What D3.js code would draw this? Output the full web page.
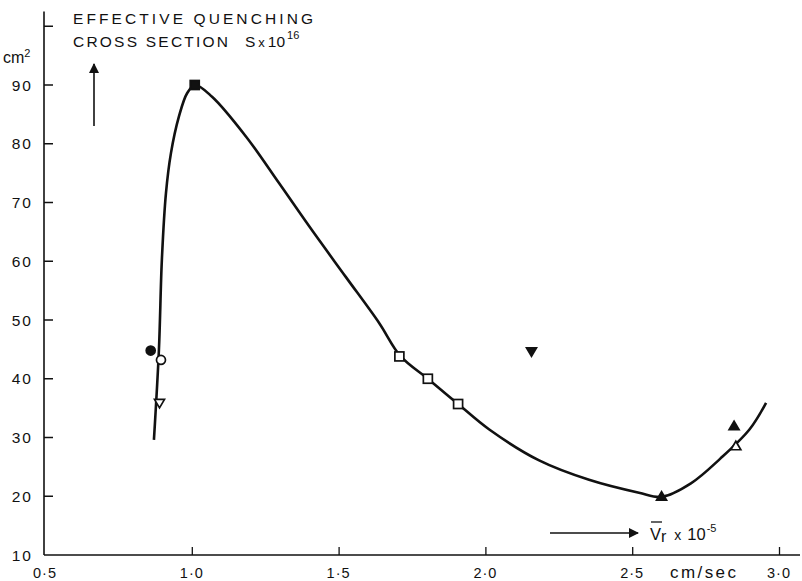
<!DOCTYPE html>
<html><head><meta charset="utf-8">
<script src="https://cdn.jsdelivr.net/npm/d3@7"></script>
<style>body{margin:0;background:#fff}svg{display:block}text{font-family:"Liberation Sans",Arial,sans-serif;fill:#111}</style>
</head><body><svg id="c" width="802" height="581"></svg>
<script>
// tick values and labels
const xTicks = [0.5, 1.0, 1.5, 2.0, 2.5, 3.0];
const xTickLabels = ["0·5", "1·0", "1·5", "2·0", "2·5", "3·0"];
const yTicks = [10, 20, 30, 40, 50, 60, 70, 80, 90, 100];
const yTickLabels = ["10", "20", "30", "40", "50", "60", "70", "80", "90", ""];

// measured points: [x, y, marker]
const pointsX = [0.86, 0.895, 0.89, 1.01, 1.707, 1.804, 1.907, 2.157, 2.60, 2.847, 2.853];
const pointsY = [44.8, 43.2, 35.8, 90.0, 43.8, 40.0, 35.7, 44.6, 20.0, 32.0, 28.6];
const pointsMarker = ["circleFilled", "circleOpen", "triDownOpen", "squareFilled", "squareOpen", "squareOpen", "squareOpen", "triDownFilled", "triUpFilled", "triUpFilled", "triUpOpen"];

// fitted curve
const curveX = [0.871, 0.888, 0.898, 0.912, 0.929, 0.956, 0.984, 1.011, 1.069, 1.185, 1.297, 1.409, 1.525, 1.638, 1.710, 1.804, 1.907, 2.012, 2.183, 2.353, 2.523, 2.601, 2.70, 2.80, 2.90, 2.956];
const curveY = [29.6, 44.9, 60.2, 71.6, 78.4, 84.6, 88.6, 90.0, 88.0, 81.2, 73.3, 65.3, 57.3, 49.5, 43.9, 40.0, 35.7, 31.4, 26.1, 22.8, 20.6, 19.9, 22.2, 26.4, 31.4, 35.9];

const svg = d3.select("#c");
const x = d3.scaleLinear().domain([0.5, 3.0]).range([45, 779]);
const y = d3.scaleLinear().domain([10, 90]).range([555, 85]);
const ink = "#111";
const ax0 = x(0.5) - 1;

// axes
svg.append("line").attr("x1", ax0).attr("x2", 800).attr("y1", y(10)).attr("y2", y(10))
  .attr("stroke", ink).attr("stroke-width", 1.6);
svg.append("line").attr("x1", ax0).attr("x2", ax0).attr("y1", y(102.5)).attr("y2", y(10))
  .attr("stroke", ink).attr("stroke-width", 1.6);

// y ticks (inside)
svg.append("g").selectAll("line").data(yTicks.slice(1)).join("line")
  .attr("x1", ax0).attr("x2", ax0 + 9).attr("y1", d => y(d)).attr("y2", d => y(d))
  .attr("stroke", ink).attr("stroke-width", 1.5);
svg.append("g").selectAll("text").data(yTicks).join("text")
  .attr("x", 33).attr("y", d => y(d) + 5.5).attr("text-anchor", "end")
  .attr("font-size", 15.5).attr("letter-spacing", 2).text((d, i) => yTickLabels[i]);

// x ticks (inside, upward)
const xAxis = d3.axisTop(x).tickValues(xTicks.slice(1)).tickSize(8).tickFormat("");
svg.append("g").attr("transform", `translate(0,${y(10)})`).call(xAxis)
  .call(g => g.select(".domain").remove())
  .call(g => g.selectAll("line").attr("stroke", ink).attr("stroke-width", 1.3));
svg.append("g").selectAll("text").data(xTicks).join("text")
  .attr("x", d => x(d)).attr("y", 578).attr("text-anchor", "middle")
  .attr("font-size", 14.5).attr("letter-spacing", 1).text((d, i) => xTickLabels[i]);
svg.append("text").attr("x", 670).attr("y", 578).attr("font-size", 17).attr("textLength", 66).text("cm/sec");

// title
svg.append("text").attr("x", 73).attr("y", 24).attr("font-size", 15.5)
  .attr("textLength", 240).attr("lengthAdjust", "spacing").text("EFFECTIVE QUENCHING");
svg.append("text").attr("x", 73).attr("y", 47).attr("font-size", 15.5)
  .attr("textLength", 155).attr("lengthAdjust", "spacing").text("CROSS SECTION");
const t2 = svg.append("text").attr("x", 245).attr("y", 47).attr("font-size", 15.5);
t2.append("tspan").text("S");
t2.append("tspan").attr("font-size", 13).attr("dx", 3).text("x");
t2.append("tspan").attr("dx", 3).text("10");
t2.append("tspan").attr("font-size", 11).attr("dx", 2).attr("dy", -8).text("16");
const cm = svg.append("text").attr("x", 3).attr("y", 63).attr("font-size", 16);
cm.append("tspan").text("cm");
cm.append("tspan").attr("font-size", 11).attr("dy", -6).text("2");

// arrows
svg.append("defs").append("marker").attr("id", "ah").attr("viewBox", "0 0 10 10")
  .attr("refX", 9).attr("refY", 5).attr("markerWidth", 13).attr("markerHeight", 10)
  .attr("markerUnits", "userSpaceOnUse").attr("orient", "auto")
  .append("path").attr("d", "M0,0L10,5L0,10Z").attr("fill", ink);
svg.append("line").attr("x1", 94).attr("x2", 94).attr("y1", 126).attr("y2", 64)
  .attr("stroke", ink).attr("stroke-width", 1.6).attr("marker-end", "url(#ah)");
svg.append("line").attr("x1", 550).attr("x2", 638).attr("y1", 533).attr("y2", 533)
  .attr("stroke", ink).attr("stroke-width", 1.6).attr("marker-end", "url(#ah)");
const vr = svg.append("text").attr("x", 650).attr("y", 540).attr("font-size", 16.5);
vr.append("tspan").text("V");
vr.append("tspan").attr("dy", 2).attr("font-size", 16).text("r");
vr.append("tspan").attr("dy", -2).attr("dx", 8).attr("font-size", 14).text("x");
vr.append("tspan").attr("dx", 6).text("10");
vr.append("tspan").attr("dy", -8).attr("dx", 1).attr("font-size", 11).text("-5");
svg.append("line").attr("x1", 651).attr("x2", 662).attr("y1", 522).attr("y2", 522)
  .attr("stroke", ink).attr("stroke-width", 1.3);

// curve
const curvePts = curveX.map((d, i) => [d, curveY[i]]);
svg.append("path").datum(curvePts)
  .attr("d", d3.line().x(d => x(d[0])).y(d => y(d[1])).curve(d3.curveCatmullRom.alpha(0.5)))
  .attr("fill", "none").attr("stroke", ink).attr("stroke-width", 2.6).attr("stroke-linejoin", "round");

// markers
const pts = pointsX.map((d, i) => ({x: d, y: pointsY[i], m: pointsMarker[i]}));
const tri = (s, down) => down ? `M${-s},${-s * 0.8}L${s},${-s * 0.8}L0,${s * 0.9}Z` : `M${-s},${s * 0.8}L${s},${s * 0.8}L0,${-s * 0.9}Z`;
const g = svg.append("g");
pts.forEach(p => {
  const cx = x(p.x), cy = y(p.y);
  const filled = p.m.endsWith("Filled");
  const fill = filled ? ink : "#fff";
  let el;
  if (p.m.startsWith("circle")) el = g.append("circle").attr("r", 4.5);
  else if (p.m.startsWith("square")) el = g.append("rect").attr("x", -4.5).attr("y", -4.5).attr("width", 9).attr("height", 9);
  else if (p.m.startsWith("triDown")) el = g.append("path").attr("d", tri(5, true));
  else el = g.append("path").attr("d", tri(5, false));
  el.attr("transform", `translate(${cx},${cy})`).attr("fill", fill).attr("stroke", ink).attr("stroke-width", 1.7);
});
</script></body></html>
